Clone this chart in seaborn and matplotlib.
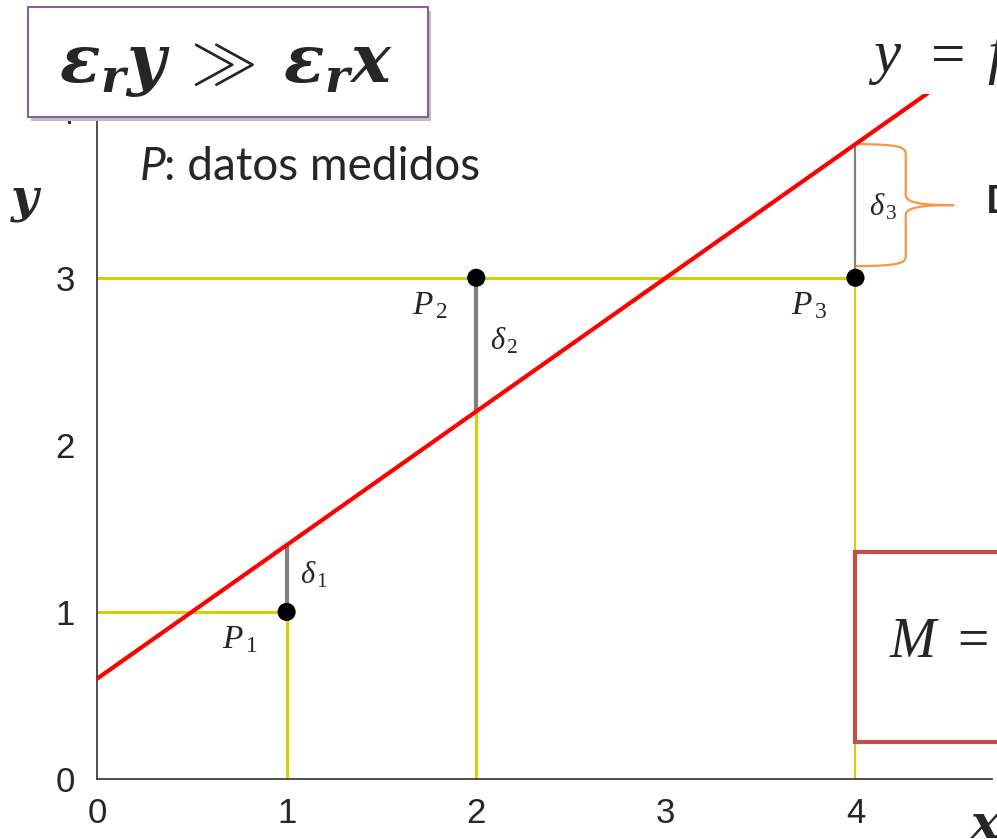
import numpy as np
import pandas as pd
import matplotlib
matplotlib.use("Agg")
import matplotlib.pyplot as plt
import matplotlib.patches as mpatches
from matplotlib.path import Path
import seaborn as sns

# measured data points
point_x = [1, 2, 4]
point_y = [1, 3, 3]
point_names = ["1", "2", "3"]

# fitted straight line y = slope * x + intercept
slope = 0.8
intercept = 0.6

x_ticks = [0, 1, 2, 3, 4]
y_ticks = [0, 1, 2, 3, 4]

sns.set_style("white")
plt.rcParams["font.family"] = ["Liberation Sans", "DejaVu Sans"]
plt.rcParams["mathtext.fontset"] = "custom"
plt.rcParams["mathtext.it"] = "Liberation Serif:italic"
plt.rcParams["mathtext.rm"] = "Liberation Serif"
plt.rcParams["mathtext.bf"] = "DejaVu Serif:italic:bold"

W, H = 997, 839
fig = plt.figure(figsize=(W / 100, H / 100), dpi=100)


def fx(px):
    return px / W


def fy(py):
    return 1 - py / H


ax = fig.add_axes([fx(97), fy(779), (992 - 97) / W, (779 - 94) / H])
ax.set_xlim(0, 4.72)
ax.set_ylim(0, 4.10)

yellow = "#D2D200"
gray = "#808080"

df = pd.DataFrame({"x": point_x, "y": point_y})
df["fit"] = slope * df["x"] + intercept

# guide lines from the axes to each measured point
for i, (x, y) in enumerate(zip(point_x, point_y)):
    lw = 2.2 if i < 2 else 1.5
    ax.plot([x, x], [0, y], color=yellow, lw=lw, zorder=1, solid_capstyle="butt")
for y in sorted(set(point_y)):
    xmax = max(x for x, yy in zip(point_x, point_y) if yy == y)
    ax.plot([0, xmax], [y, y], color=yellow, lw=2.2, zorder=1, solid_capstyle="butt")

# residuals between points and fitted line
for i, row in df.iterrows():
    lw = 3.0 if i < 2 else 1.6
    ax.plot([row.x, row.x], [row.y, row.fit], color=gray, lw=lw, zorder=2,
            solid_capstyle="butt")

# fitted line
line_x = np.array([0.0, 4.72])
line_df = pd.DataFrame({"x": line_x, "y": slope * line_x + intercept})
sns.lineplot(data=line_df, x="x", y="y", color="red", lw=3.0, ax=ax, zorder=3)

# measured points
sns.scatterplot(data=df, x="x", y="y", color="black", s=170, edgecolor="none",
                ax=ax, zorder=4, legend=False)

# point and residual labels
for x, y, fit, n in zip(point_x, point_y, df["fit"], point_names):
    ax.text(x - 0.34, y - 0.22, rf"$P_{{\,\mathit{{{n}}}}}$", fontsize=24,
            va="baseline", ha="left")
    mid = (y + fit) / 2
    ax.text(x + 0.07, mid - 0.03, rf"$\delta_{{\,\mathit{{{n}}}}}$", fontsize=22,
            va="baseline", ha="left")

# curly brace next to the third residual
bx, b0, b1 = point_x[2], point_y[2] + 0.07, df["fit"].iloc[2]
bm = (b0 + b1) / 2
w1, w2 = 0.265, 0.52
verts = [
    (bx, b1), (bx + w1 * 0.9, b1), (bx + w1, b1 - 0.02), (bx + w1, b1 - 0.06),
    (bx + w1, bm + 0.06),
    (bx + w1, bm + 0.01), (bx + w1 + 0.1, bm), (bx + w2, bm),
    (bx + w1 + 0.1, bm), (bx + w1, bm - 0.01), (bx + w1, bm - 0.06),
    (bx + w1, b0 + 0.06),
    (bx + w1, b0 + 0.02), (bx + w1 * 0.9, b0), (bx, b0),
]
codes = [Path.MOVETO, Path.CURVE4, Path.CURVE4, Path.CURVE4,
         Path.LINETO,
         Path.CURVE4, Path.CURVE4, Path.CURVE4,
         Path.CURVE4, Path.CURVE4, Path.CURVE4,
         Path.LINETO,
         Path.CURVE4, Path.CURVE4, Path.CURVE4]
ax.add_patch(mpatches.PathPatch(Path(verts, codes), fc="none", ec="#F79646",
                                lw=1.6, zorder=2, clip_on=False))

# axes styling
ax.set_xticks(x_ticks)
ax.set_yticks(y_ticks)
ax.tick_params(direction="in", length=5, width=1.2, colors="#262626",
               labelsize=25, pad=13)
ax.tick_params(axis="y", pad=16)
for s in ["top", "right"]:
    ax.spines[s].set_visible(False)
for s in ["left", "bottom"]:
    ax.spines[s].set_color("#404040")
    ax.spines[s].set_linewidth(1.3)
ax.set_xlabel("")
ax.set_ylabel("")

# axis names
fig.text(fx(11), fy(212), "y", family="DejaVu Serif", style="italic",
         weight="bold", fontsize=34, va="baseline")
fig.text(fx(971), fy(838), "x", family="DejaVu Serif", style="italic",
         weight="bold", fontsize=34, va="baseline")

# caption for the points
fig.text(fx(140), fy(180), "P", family="Lato", style="italic", fontsize=33,
         va="baseline")
fig.text(fx(164), fy(180), ": datos medidos", family="Lato", fontsize=33,
         va="baseline")

# condition box
shadow = mpatches.Rectangle((fx(31), fy(121)), 400 / W, 110 / H,
                            transform=fig.transFigure, fc="#BFBFBF",
                            ec="none", zorder=9)
box = mpatches.Rectangle((fx(28), fy(117)), 400 / W, 110 / H,
                         transform=fig.transFigure, fc="white",
                         ec="#8064A2", lw=1.5, zorder=10)
fig.add_artist(shadow)
fig.add_artist(box)
fig.text(fx(226), fy(68),
         r"$\mathbf{\varepsilon_r y}\ \gg\ \mathbf{\varepsilon_r x}$",
         fontsize=48, ha="center", va="center", zorder=11)

# equation of the line
fig.text(fx(868), fy(72), r"$y$", fontsize=44, va="baseline", zorder=11)
fig.text(fx(922), fy(72), r"$=$", fontsize=44, va="baseline", zorder=11)
fig.text(fx(987), fy(72), r"$f(x)$", fontsize=44, va="baseline", zorder=11)

# residual description
fig.text(fx(986), fy(213), "D", family="Lato", weight="bold", fontsize=28,
         va="baseline", zorder=11)

# merit function box
mbox = mpatches.Rectangle((fx(855), fy(742)), (1020 - 855) / W, (742 - 552) / H,
                          transform=fig.transFigure, fc="white",
                          ec="#C0504D", lw=3.0, zorder=10)
fig.add_artist(mbox)
fig.text(fx(889), fy(657), r"$M\ =$", fontsize=40, va="baseline", zorder=11)

fig.savefig("out.png", dpi=100)
